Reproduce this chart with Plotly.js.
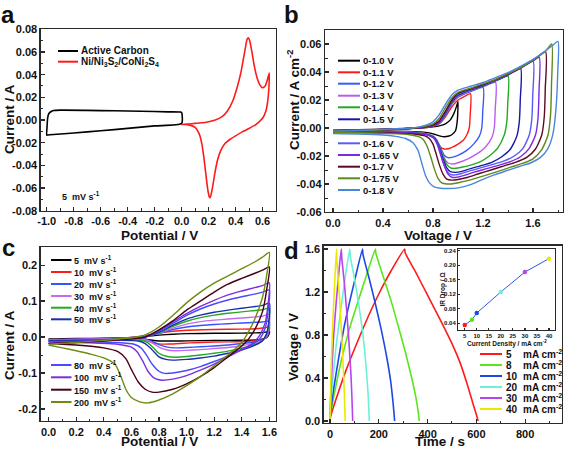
<!DOCTYPE html>
<html><head><meta charset="utf-8">
<script src="https://cdn.plot.ly/plotly-3.0.1.min.js"></script>
<style>html,body{margin:0;padding:0;background:#fff}#chart{width:567px;height:450px}</style>
</head><body><div id="chart"></div>
<script>
// ---------------- DATA ----------------
// Panel a : CV at 5 mV/s
const aCarbonX = [0, -0.2, -0.4, -0.6, -0.8, -0.95, -0.99, -1.0, -0.998, -0.993, -0.985, -0.97, -0.95, -0.9, -0.7, -0.5, -0.3, -0.1, -0.01, 0.0, 0.0];
const aCarbonY = [-0.003, -0.0052, -0.0074, -0.0095, -0.0115, -0.0128, -0.0132, -0.0134, -0.006, 0.002, 0.0055, 0.0073, 0.0083, 0.0087, 0.0085, 0.0081, 0.0077, 0.0072, 0.007, 0.0066, -0.003];
const aNiX = [0, 0.05, 0.1, 0.15, 0.2, 0.25, 0.3, 0.34, 0.38, 0.41, 0.44, 0.46, 0.475, 0.485, 0.495, 0.505, 0.52, 0.54, 0.56, 0.58, 0.6, 0.62, 0.635, 0.65, 0.648, 0.64, 0.625, 0.6, 0.55, 0.5, 0.45, 0.4, 0.36, 0.32, 0.29, 0.265, 0.245, 0.23, 0.22, 0.212, 0.205, 0.195, 0.18, 0.165, 0.15, 0.13, 0.1, 0.06, 0.02, 0];
const aNiY = [-0.004, -0.0035, -0.003, -0.0025, -0.0015, 0.0, 0.003, 0.008, 0.017, 0.028, 0.042, 0.055, 0.065, 0.071, 0.0725, 0.07, 0.061, 0.047, 0.037, 0.031, 0.0285, 0.03, 0.035, 0.0415, 0.03, 0.018, 0.008, 0.0015, -0.004, -0.0075, -0.0105, -0.014, -0.017, -0.021, -0.027, -0.036, -0.048, -0.059, -0.065, -0.0685, -0.0675, -0.062, -0.048, -0.033, -0.021, -0.012, -0.0065, -0.0045, -0.004, -0.004];
const aNames = ['Active Carbon', 'Ni/Ni<sub>3</sub>S<sub>2</sub>/CoNi<sub>2</sub>S<sub>4</sub>'];
const aColors = ['#000000', '#ff1a1a'];

// Panel b : CV windows
const bNames = ['0-1.0 V','0-1.1 V','0-1.2 V','0-1.3 V','0-1.4 V','0-1.5 V','0-1.6 V','0-1.65 V','0-1.7 V','0-1.75 V','0-1.8 V'];
const bColors = ['#000000','#ff1a1a','#3a5cf5','#bb5cf0','#22aa22','#1515a8','#5a5af8','#7a2ae0','#5a0a22','#62881a','#4a86dc'];
const bX = [
 [0,0.2,0.4,0.6,0.7,0.8,0.85,0.9,0.94,0.97,0.99,1.0,0.995,0.98,0.95,0.92,0.89,0.86,0.82,0.77,0.7,0.6,0.4,0.2,0],
 [0,0.2,0.4,0.6,0.7,0.8,0.85,0.9,0.95,1.0,1.05,1.1,1.098,1.09,1.07,1.04,1.0,0.96,0.92,0.89,0.86,0.83,0.8,0.75,0.7,0.6,0.4,0.2,0],
 [0,0.2,0.4,0.6,0.7,0.8,0.85,0.9,0.95,1.0,1.1,1.2,1.198,1.19,1.17,1.13,1.07,1.0,0.95,0.92,0.89,0.86,0.83,0.8,0.75,0.7,0.6,0.4,0.2,0],
 [0,0.2,0.4,0.6,0.7,0.8,0.85,0.9,0.95,1.0,1.1,1.2,1.3,1.298,1.29,1.27,1.22,1.15,1.08,1.0,0.96,0.92,0.89,0.86,0.83,0.8,0.75,0.7,0.6,0.4,0.2,0],
 [0,0.2,0.4,0.6,0.7,0.8,0.85,0.9,0.95,1.0,1.1,1.2,1.3,1.4,1.398,1.39,1.37,1.32,1.25,1.18,1.1,1.03,0.98,0.94,0.91,0.88,0.855,0.83,0.8,0.75,0.7,0.6,0.4,0.2,0],
 [0,0.2,0.4,0.6,0.7,0.8,0.85,0.9,0.95,1.0,1.1,1.2,1.3,1.4,1.5,1.498,1.49,1.47,1.42,1.35,1.27,1.18,1.1,1.03,0.98,0.94,0.91,0.88,0.855,0.83,0.8,0.75,0.7,0.6,0.4,0.2,0],
 [0,0.2,0.4,0.6,0.7,0.8,0.85,0.9,0.95,1.0,1.1,1.2,1.3,1.4,1.5,1.6,1.598,1.59,1.57,1.52,1.45,1.37,1.28,1.18,1.1,1.03,0.98,0.94,0.91,0.88,0.855,0.83,0.8,0.75,0.7,0.6,0.4,0.2,0],
 [0,0.2,0.4,0.6,0.7,0.8,0.85,0.9,0.95,1.0,1.1,1.2,1.3,1.4,1.5,1.6,1.65,1.648,1.64,1.62,1.57,1.5,1.42,1.33,1.23,1.13,1.05,0.99,0.95,0.92,0.89,0.86,0.835,0.81,0.78,0.74,0.7,0.6,0.4,0.2,0],
 [0,0.2,0.4,0.6,0.7,0.8,0.85,0.9,0.95,1.0,1.1,1.2,1.3,1.4,1.5,1.6,1.7,1.698,1.69,1.67,1.62,1.55,1.46,1.37,1.27,1.17,1.08,1.0,0.95,0.91,0.88,0.85,0.82,0.8,0.77,0.73,0.68,0.6,0.4,0.2,0],
 [0,0.2,0.4,0.6,0.7,0.75,0.8,0.85,0.9,0.95,1.0,1.1,1.2,1.3,1.4,1.5,1.6,1.7,1.75,1.748,1.74,1.72,1.67,1.6,1.51,1.42,1.32,1.22,1.12,1.03,0.96,0.91,0.87,0.84,0.81,0.78,0.75,0.72,0.68,0.6,0.4,0.2,0],
 [0,0.2,0.4,0.6,0.65,0.7,0.75,0.8,0.85,0.9,0.95,1.0,1.1,1.2,1.3,1.4,1.5,1.6,1.7,1.75,1.8,1.798,1.785,1.76,1.72,1.66,1.58,1.49,1.39,1.29,1.19,1.1,1.0,0.92,0.86,0.81,0.77,0.74,0.71,0.68,0.64,0.58,0.5,0.4,0.2,0]
];
const bY = [
 [-0.0015,-0.0012,-0.0008,-0.0003,0.0,0.0008,0.0015,0.003,0.006,0.011,0.016,0.019,0.006,-0.002,-0.0048,-0.0059,-0.0062,-0.0058,-0.0047,-0.0035,-0.0028,-0.0024,-0.0021,-0.002,-0.002],
 [-0.0018,-0.0015,-0.001,-0.0004,0.0,0.0012,0.003,0.008,0.015,0.02,0.0225,0.0245,0.01,0.0,-0.005,-0.009,-0.0115,-0.0135,-0.0148,-0.015,-0.0135,-0.0095,-0.0062,-0.0042,-0.0034,-0.0028,-0.0025,-0.0023,-0.0023],
 [-0.002,-0.0017,-0.0011,-0.0004,0.0002,0.0015,0.0035,0.009,0.017,0.022,0.026,0.029,0.012,0.0,-0.006,-0.011,-0.016,-0.0195,-0.021,-0.0212,-0.0195,-0.014,-0.0085,-0.0058,-0.0043,-0.0036,-0.003,-0.0027,-0.0025,-0.0025],
 [-0.002,-0.0017,-0.0011,-0.0004,0.0002,0.0016,0.0038,0.0095,0.0175,0.0225,0.0265,0.0295,0.0325,0.014,0.0,-0.007,-0.0135,-0.0185,-0.022,-0.0248,-0.0257,-0.025,-0.0215,-0.015,-0.009,-0.006,-0.0044,-0.0037,-0.0031,-0.0028,-0.0026,-0.0026],
 [-0.002,-0.0017,-0.0011,-0.0004,0.0002,0.0017,0.004,0.01,0.018,0.023,0.027,0.030,0.0335,0.037,0.018,0.004,-0.005,-0.014,-0.02,-0.024,-0.0265,-0.028,-0.0288,-0.0285,-0.026,-0.02,-0.014,-0.009,-0.0062,-0.0045,-0.0038,-0.0032,-0.0029,-0.0027,-0.0027],
 [-0.002,-0.0017,-0.0011,-0.0004,0.0002,0.0018,0.0042,0.0105,0.0185,0.0235,0.0272,0.0302,0.0338,0.0378,0.0426,0.02,0.004,-0.006,-0.015,-0.0205,-0.0245,-0.027,-0.029,-0.031,-0.0317,-0.0312,-0.0285,-0.022,-0.015,-0.0095,-0.0065,-0.0047,-0.004,-0.0034,-0.003,-0.0028,-0.0028],
 [-0.0021,-0.0018,-0.0012,-0.0004,0.0003,0.002,0.0046,0.011,0.019,0.024,0.0275,0.0305,0.034,0.038,0.0425,0.0478,0.024,0.006,-0.005,-0.0145,-0.02,-0.0235,-0.026,-0.0285,-0.0305,-0.0325,-0.0335,-0.0332,-0.0305,-0.024,-0.016,-0.01,-0.0068,-0.0049,-0.0041,-0.0035,-0.0031,-0.0029,-0.0029],
 [-0.0021,-0.0018,-0.0012,-0.0004,0.0003,0.0021,0.0048,0.0115,0.0195,0.0245,0.0278,0.0308,0.0342,0.0382,0.0428,0.048,0.0505,0.026,0.007,-0.005,-0.0145,-0.0205,-0.024,-0.0265,-0.029,-0.0315,-0.0338,-0.0352,-0.0352,-0.033,-0.027,-0.019,-0.012,-0.0078,-0.0056,-0.0046,-0.004,-0.0035,-0.0031,-0.003,-0.003],
 [-0.0022,-0.0019,-0.0012,-0.0004,0.0004,0.0023,0.0052,0.012,0.0198,0.0248,0.028,0.031,0.0345,0.0385,0.043,0.0482,0.0545,0.028,0.008,-0.005,-0.015,-0.021,-0.0245,-0.027,-0.0298,-0.0325,-0.0352,-0.0368,-0.0372,-0.0365,-0.033,-0.026,-0.017,-0.0115,-0.0075,-0.0055,-0.0046,-0.004,-0.0035,-0.0032,-0.0032],
 [-0.0022,-0.0019,-0.0012,-0.0003,0.0006,0.0015,0.003,0.007,0.0145,0.0215,0.0255,0.0285,0.0315,0.0348,0.0388,0.0432,0.0485,0.0548,0.06,0.031,0.009,-0.005,-0.0155,-0.022,-0.0255,-0.028,-0.031,-0.0338,-0.0365,-0.0385,-0.0398,-0.04,-0.0392,-0.036,-0.029,-0.02,-0.0125,-0.008,-0.006,-0.0046,-0.0038,-0.0034,-0.0034],
 [-0.0022,-0.0018,-0.001,-0.0002,0.0003,0.001,0.0022,0.0045,0.0095,0.017,0.0235,0.027,0.0298,0.0325,0.036,0.0395,0.044,0.049,0.0552,0.0585,0.0618,0.04,0.015,-0.004,-0.0145,-0.021,-0.025,-0.0275,-0.0305,-0.0335,-0.037,-0.0405,-0.0428,-0.0432,-0.043,-0.042,-0.039,-0.034,-0.025,-0.016,-0.0105,-0.0075,-0.006,-0.005,-0.0043,-0.004]
];

// Panel c : CV at scan rates
const cNames = ['5','10','20','30','40','50','80','100','150','200'];
const cColors = ['#000000','#ff1a1a','#3355ff','#c46af0','#22aa22','#1a2fb0','#4a4aff','#7a2ee0','#4a0012','#6e8c10'];
const cX = [
 [0,0.2,0.4,0.6,0.7,0.8,0.9,1.0,1.2,1.4,1.5,1.55,1.58,1.6,1.595,1.58,1.55,1.5,1.4,1.2,1.0,0.9,0.8,0.75,0.7,0.65,0.6,0.5,0.3,0.1,0],
 [0,0.2,0.4,0.6,0.7,0.8,0.9,1.0,1.2,1.4,1.5,1.55,1.58,1.6,1.595,1.58,1.55,1.5,1.4,1.3,1.1,0.95,0.87,0.8,0.75,0.7,0.65,0.55,0.3,0.1,0],
 [0,0.2,0.4,0.6,0.7,0.8,0.9,1.0,1.1,1.2,1.3,1.4,1.5,1.55,1.6,1.595,1.58,1.55,1.5,1.4,1.3,1.2,1.1,1.0,0.92,0.86,0.8,0.75,0.7,0.6,0.4,0.2,0],
 [0,0.2,0.4,0.6,0.7,0.8,0.9,1.0,1.1,1.2,1.3,1.4,1.5,1.55,1.6,1.595,1.58,1.55,1.5,1.4,1.3,1.2,1.1,1.0,0.92,0.86,0.8,0.76,0.72,0.67,0.5,0.3,0],
 [0,0.2,0.4,0.6,0.7,0.8,0.9,1.0,1.1,1.2,1.3,1.4,1.5,1.55,1.6,1.595,1.58,1.55,1.5,1.4,1.3,1.2,1.1,1.0,0.92,0.86,0.8,0.76,0.72,0.67,0.5,0.3,0],
 [0,0.2,0.4,0.6,0.7,0.8,0.9,1.0,1.1,1.2,1.3,1.4,1.5,1.55,1.6,1.595,1.58,1.55,1.5,1.4,1.3,1.2,1.1,1.0,0.9,0.85,0.8,0.75,0.7,0.65,0.5,0.3,0],
 [0,0.2,0.4,0.6,0.7,0.8,0.9,1.0,1.1,1.2,1.3,1.4,1.5,1.55,1.6,1.59,1.57,1.53,1.47,1.4,1.3,1.2,1.1,1.0,0.9,0.84,0.8,0.75,0.71,0.67,0.62,0.5,0.3,0],
 [0,0.2,0.4,0.6,0.7,0.8,0.9,1.0,1.1,1.2,1.3,1.4,1.5,1.55,1.6,1.59,1.57,1.53,1.47,1.4,1.3,1.2,1.1,1.0,0.9,0.82,0.77,0.72,0.68,0.64,0.6,0.5,0.3,0],
 [0,0.2,0.4,0.6,0.7,0.8,0.9,1.0,1.1,1.2,1.3,1.4,1.5,1.55,1.6,1.58,1.55,1.5,1.45,1.4,1.3,1.2,1.1,1.0,0.9,0.8,0.75,0.7,0.65,0.6,0.56,0.5,0.4,0.2,0],
 [0,0.2,0.4,0.6,0.7,0.8,0.9,1.0,1.1,1.2,1.3,1.4,1.5,1.55,1.6,1.58,1.55,1.5,1.45,1.4,1.3,1.2,1.1,1.0,0.9,0.8,0.72,0.66,0.6,0.56,0.52,0.48,0.4,0.3,0.2,0.1,0]
];
const cY = [
 [-0.005,-0.004,-0.003,-0.001,0.002,0.0055,0.008,0.0095,0.0105,0.011,0.0115,0.0125,0.0145,0.017,0.006,-0.002,-0.006,-0.008,-0.009,-0.0095,-0.0105,-0.011,-0.011,-0.009,-0.006,-0.004,-0.0032,-0.0035,-0.0042,-0.0048,-0.005],
 [-0.007,-0.006,-0.004,-0.001,0.004,0.011,0.016,0.019,0.021,0.022,0.023,0.025,0.027,0.029,0.012,0.0,-0.006,-0.01,-0.0125,-0.0135,-0.015,-0.0178,-0.0195,-0.019,-0.015,-0.009,-0.005,-0.004,-0.0058,-0.0068,-0.007],
 [-0.008,-0.007,-0.005,-0.002,0.003,0.01,0.021,0.028,0.032,0.035,0.037,0.039,0.041,0.042,0.044,0.015,0.0,-0.008,-0.013,-0.018,-0.022,-0.025,-0.027,-0.029,-0.03,-0.028,-0.021,-0.012,-0.006,-0.004,-0.005,-0.006,-0.007],
 [-0.009,-0.008,-0.006,-0.002,0.003,0.011,0.025,0.036,0.043,0.047,0.05,0.053,0.056,0.058,0.063,0.025,0.003,-0.01,-0.017,-0.024,-0.029,-0.032,-0.035,-0.037,-0.038,-0.036,-0.028,-0.018,-0.01,-0.006,-0.005,-0.006,-0.008],
 [-0.01,-0.009,-0.007,-0.003,0.002,0.012,0.03,0.044,0.054,0.061,0.066,0.07,0.074,0.076,0.08,0.035,0.008,-0.01,-0.02,-0.031,-0.039,-0.045,-0.05,-0.054,-0.056,-0.054,-0.045,-0.03,-0.016,-0.009,-0.007,-0.008,-0.009],
 [-0.011,-0.01,-0.008,-0.004,0.001,0.013,0.033,0.05,0.061,0.069,0.075,0.08,0.085,0.088,0.094,0.04,0.01,-0.01,-0.022,-0.036,-0.045,-0.053,-0.058,-0.062,-0.064,-0.062,-0.055,-0.035,-0.018,-0.011,-0.009,-0.009,-0.01],
 [-0.013,-0.012,-0.009,-0.005,0.0,0.016,0.038,0.06,0.078,0.092,0.103,0.112,0.12,0.125,0.131,0.07,0.025,-0.005,-0.022,-0.035,-0.052,-0.068,-0.082,-0.093,-0.1,-0.101,-0.095,-0.075,-0.05,-0.03,-0.02,-0.015,-0.013,-0.012],
 [-0.015,-0.013,-0.01,-0.005,0.0,0.018,0.042,0.065,0.085,0.102,0.117,0.128,0.138,0.143,0.151,0.09,0.04,0.005,-0.02,-0.035,-0.055,-0.075,-0.092,-0.107,-0.117,-0.12,-0.115,-0.095,-0.065,-0.04,-0.028,-0.02,-0.016,-0.014],
 [-0.018,-0.015,-0.011,-0.005,0.0,0.02,0.045,0.075,0.1,0.125,0.147,0.163,0.178,0.186,0.195,0.13,0.07,0.025,-0.005,-0.025,-0.055,-0.085,-0.11,-0.13,-0.145,-0.153,-0.153,-0.145,-0.125,-0.09,-0.06,-0.04,-0.03,-0.022,-0.018],
 [-0.02,-0.015,-0.009,-0.002,0.006,0.028,0.06,0.095,0.125,0.15,0.17,0.19,0.21,0.222,0.235,0.17,0.11,0.055,0.015,-0.015,-0.05,-0.08,-0.11,-0.135,-0.158,-0.175,-0.183,-0.18,-0.168,-0.145,-0.105,-0.075,-0.058,-0.047,-0.038,-0.03,-0.022]
];

// Panel d : charge / discharge
const dNames = ['5','8','10','20','30','40'];
const dColors = ['#ff1a1a','#5ae61a','#1e48e6','#6ef0d8','#b844f0','#eaea00'];
const dT = [
 [0,2,30,67,124,170,204,251,306,308,350,400,450,500,532,560,585,600,607],
 [0,2,20,45,80,120,150,186,188,220,250,280,310,335,352,362,366],
 [0,2,15,35,60,95,133,135,160,185,210,232,248,258,265],
 [0,1,10,25,45,63,81,83,100,118,135,148,156,161],
 [0,1,6,15,27,36,46,48,58,68,78,86,90,93],
 [0,1,4,10,17,22,27,28,36,44,51,57,60,62]
];
const dV = [
 [0,0.04,0.24,0.48,0.8,1.04,1.2,1.4,1.6,1.565,1.39,1.17,0.95,0.72,0.55,0.36,0.17,0.06,0],
 [0,0.06,0.28,0.55,0.86,1.15,1.36,1.6,1.56,1.33,1.12,0.88,0.63,0.4,0.22,0.08,0],
 [0,0.08,0.3,0.58,0.9,1.25,1.6,1.55,1.33,1.1,0.85,0.6,0.38,0.18,0],
 [0,0.1,0.35,0.7,1.05,1.35,1.6,1.53,1.33,1.08,0.8,0.5,0.25,0],
 [0,0.12,0.4,0.8,1.15,1.38,1.6,1.52,1.3,1.03,0.72,0.42,0.2,0],
 [0,0.15,0.45,0.85,1.2,1.42,1.6,1.5,1.24,0.95,0.65,0.35,0.15,0]
];
// Inset : IR drop
const irCurrent = [5, 8, 10, 20, 30, 40];
const irDrop = [0.035, 0.049, 0.068, 0.126, 0.181, 0.218];

// ticks
const aXTicks = [-1.0,-0.8,-0.6,-0.4,-0.2,0.0,0.2,0.4,0.6];
const aYTicks = [-0.08,-0.06,-0.04,-0.02,0.0,0.02,0.04,0.06,0.08];
const bXTicks = [0.0,0.4,0.8,1.2,1.6];
const bYTicks = [-0.06,-0.04,-0.02,0.0,0.02,0.04,0.06];
const cXTicks = [0.0,0.2,0.4,0.6,0.8,1.0,1.2,1.4,1.6];
const cYTicks = [-0.2,-0.1,0.0,0.1,0.2];
const dXTicks = [0,200,400,600,800];
const dYTicks = [0.0,0.4,0.8,1.2,1.6];
const inXTicks = [5,10,15,20,25,30,35,40];
const inYTicks = [0.04,0.08,0.12,0.16,0.20,0.24];

// ---------------- LAYOUT HELPERS ----------------
const W = 567, H = 450;
const FONT = 'Liberation Sans, Arial, sans-serif';
const px = v => v / W, py = v => 1 - v / H;
const fmt = (arr, d) => arr.map(v => v.toFixed(d));

function axis(dom, rng, tv, dec, minorD, anchor, extra) {
  return Object.assign({
    domain: dom, range: rng, anchor: anchor,
    showline: true, mirror: true, linecolor: '#2a2a2a', linewidth: 1.3,
    ticks: 'inside', ticklen: 4, tickwidth: 1.2, tickcolor: '#2a2a2a',
    tickmode: 'array', tickvals: tv, ticktext: fmt(tv, dec),
    minor: {ticks: 'inside', ticklen: 2.5, tickwidth: 1, tickcolor: '#2a2a2a', dtick: minorD, tick0: 0, showgrid: false},
    showgrid: false, zeroline: false, fixedrange: true,
    tickfont: {family: FONT, size: 11, color: '#111', weight: 'bold'}
  }, extra || {});
}

const traces = [];
function addLine(x, y, color, xa, ya, w) {
  traces.push({type: 'scatter', mode: 'lines', x: x, y: y, xaxis: xa, yaxis: ya,
    line: {color: color, width: w, shape: 'spline', smoothing: 0.6}, hoverinfo: 'skip', showlegend: false});
}
addLine(aCarbonX, aCarbonY, aColors[0], 'x', 'y', 1.6);
addLine(aNiX, aNiY, aColors[1], 'x', 'y', 1.6);
for (let i = 0; i < bX.length; i++) addLine(bX[i], bY[i], bColors[i], 'x2', 'y2', 1.4);
for (let i = 0; i < cX.length; i++) addLine(cX[i], cY[i], cColors[i], 'x3', 'y3', 1.4);
for (let i = 0; i < dT.length; i++) addLine(dT[i], dV[i], dColors[i], 'x4', 'y4', 1.6);
traces.push({type: 'scatter', mode: 'lines+markers', x: irCurrent, y: irDrop, xaxis: 'x5', yaxis: 'y5',
  line: {color: '#3355ee', width: 1}, marker: {color: dColors, size: 4.5}, hoverinfo: 'skip', showlegend: false});

const annotations = [], shapes = [];
function txt(text, x, y, size, opt) {
  annotations.push(Object.assign({text: text, x: px(x), y: py(y), xref: 'paper', yref: 'paper', showarrow: false,
    xanchor: 'left', yanchor: 'middle', borderpad: 0,
    font: {family: FONT, size: size, color: '#111', weight: 'bold'}}, opt || {}));
}
function legLine(x0, x1, y, color) {
  shapes.push({type: 'line', xref: 'paper', yref: 'paper', x0: px(x0), x1: px(x1), y0: py(y), y1: py(y),
    line: {color: color, width: 2}});
}
// panel letters
txt('a', 8, 0.5, 24, {xanchor: 'center', yanchor: 'top'});
txt('b', 291, 0.5, 24, {xanchor: 'center', yanchor: 'top'});
txt('c', 8, 233, 24, {xanchor: 'center', yanchor: 'top'});
txt('d', 291, 236, 24, {xanchor: 'center', yanchor: 'top'});
// axis titles
txt('Current / A', 9, 119, 13.5, {xanchor: 'center', textangle: -90});
txt('Potential / V', 159, 235.5, 13.5, {xanchor: 'center'});
txt('Current / A cm<sup>-2</sup>', 293, 100, 13.5, {xanchor: 'center', textangle: -90});
txt('Voltage / V', 438, 235, 13.5, {xanchor: 'center'});
txt('Current / A', 9, 345, 13.5, {xanchor: 'center', textangle: -90});
txt('Potential / V', 159, 450, 13.5, {xanchor: 'center', yanchor: 'bottom'});
txt('Voltage / V', 293, 347, 13.5, {xanchor: 'center', textangle: -90});
txt('Time / s', 440, 450, 13.5, {xanchor: 'center', yanchor: 'bottom'});
// inset titles
txt('IR Drop / \u03a9', 442.5, 290, 6.5, {xanchor: 'center', textangle: -90});
txt('Current Density / mA cm<sup>-2</sup>', 507, 343.5, 6.5, {xanchor: 'center'});
// panel a legend
const aRows = [51, 61.7];
for (let i = 0; i < 2; i++) { legLine(58, 78, aRows[i], aColors[i]); txt(aNames[i], 80, aRows[i], 10); }
txt('5\u00a0\u00a0mV s<sup>-1</sup>', 61, 196, 9);
// panel b legend
const bRows = [60.7,72.3,83.7,95.7,107.3,119.3,143.3,155,166.7,178.3,190];
for (let i = 0; i < bNames.length; i++) { legLine(338, 360, bRows[i], bColors[i]); txt(bNames[i], 362, bRows[i], 9.5); }
// panel c legend
const cRows = [260,272,284,296,307.7,319.3,365,377.3,389.7,402];
for (let i = 0; i < cNames.length; i++) { legLine(51, 71.5, cRows[i], cColors[i]); txt(cNames[i] + '\u00a0\u00a0mV s<sup>-1</sup>', 72.5, cRows[i], 9); }
// panel d legend
const dRows = [354,365,376,387,398,409];
for (let i = 0; i < dNames.length; i++) { legLine(480, 502, dRows[i], dColors[i]); txt(dNames[i], 505, dRows[i], 10); txt('mA cm<sup>-2</sup>', 522, dRows[i], 10); }

const inFont = {family: FONT, size: 6, color: '#111', weight: 'bold'};
const layout = {
  width: W, height: H, margin: {l: 0, r: 0, t: 0, b: 0},
  paper_bgcolor: '#fff', plot_bgcolor: '#fff', showlegend: false,
  xaxis:  axis([px(40.7), px(276)], [-1.045, 0.70], aXTicks, 1, 0.1, 'y'),
  yaxis:  axis([py(210.7), py(29.3)], [-0.08, 0.08], aYTicks, 2, 0.01, 'x'),
  xaxis2: axis([px(325), px(563)], [-0.064, 1.84], bXTicks, 1, 0.2, 'y2'),
  yaxis2: axis([py(212), py(30)], [-0.06, 0.07], bYTicks, 2, 0.01, 'x2'),
  xaxis3: axis([px(40.7), px(275.7)], [-0.057, 1.646], cXTicks, 1, 0.1, 'y3'),
  yaxis3: axis([py(421), py(247)], [-0.2333, 0.2503], cYTicks, 1, 0.05, 'x3'),
  xaxis4: axis([px(323.7), px(561.7)], [-26, 950], dXTicks, 0, 100, 'y4'),
  yaxis4: axis([py(423), py(245.7)], [-0.019, 1.631], dYTicks, 1, 0.2, 'x4'),
  xaxis5: axis([px(458), px(555)], [2.2, 42.5], inXTicks, 0, 5, 'y5',
           {linewidth: 1, ticklen: 2, tickfont: inFont, minor: {ticks: ''}}),
  yaxis5: axis([py(330), py(248.5)], [0.021, 0.246], inYTicks, 2, 0.02, 'x5',
           {linewidth: 1, ticklen: 2, tickfont: inFont, minor: {ticks: ''}}),
  annotations: annotations, shapes: shapes
};
Plotly.newPlot('chart', traces, layout, {displayModeBar: false, staticPlot: true});
</script></body></html>
